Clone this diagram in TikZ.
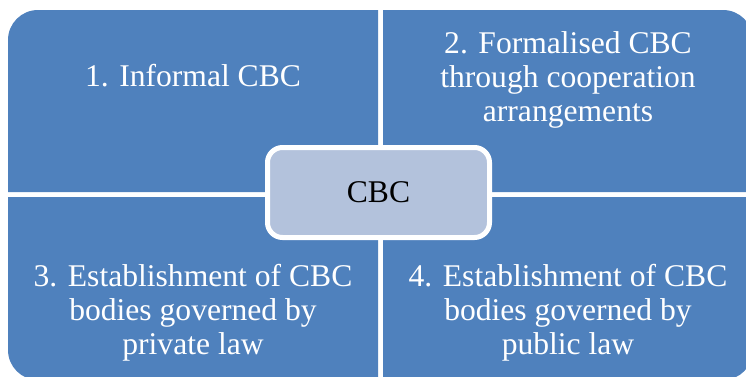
\documentclass[tikz,border=0pt]{standalone}
\usepackage{fontspec}
\setmainfont{Liberation Serif}
\definecolor{quadblue}{HTML}{4F81BD}
\definecolor{hubfill}{HTML}{B3C2DC}
\tikzset{
  quadtext/.style={text=white, align=center, inner sep=0pt,
    font=\fontsize{31.6}{34}\selectfont},
  hubbox/.style={fill=hubfill, draw=white, line width=5pt,
    rounded corners=15pt, minimum width=222pt, minimum height=90pt,
    inner sep=0pt, font=\fontsize{31.6}{34}\selectfont, text=black}
}
\begin{document}
\begin{tikzpicture}[x=1pt,y=-1pt]
  \useasboundingbox (0,0) rectangle (746,376);
  \clip (0,0) rectangle (746,376);
  % four quadrants, each rounded on its outer corner only (y grows downwards)
  \fill[quadblue] (8,192) -- (8,40) arc[start angle=180,end angle=270,radius=30]
    -- (378,10) -- (378,192) -- cycle;
  \fill[quadblue] (383,10) -- (723,10) arc[start angle=270,end angle=360,radius=30]
    -- (753,192) -- (383,192) -- cycle;
  \fill[quadblue] (8,197) -- (378,197) -- (378,380) -- (38,380)
    arc[start angle=90,end angle=180,radius=30] -- cycle;
  \fill[quadblue] (383,197) -- (753,197) -- (753,350)
    arc[start angle=0,end angle=90,radius=30] -- (383,380) -- cycle;
  % quadrant labels
  \node[quadtext] (q1) at (193,76) {1. Informal CBC};
  \node[quadtext] (q2) at (568,79.75) {2. Formalised CBC\\through cooperation\\arrangements};
  \node[quadtext] (q3) at (193,312.75) {3. Establishment of CBC\\bodies governed by\\private law};
  \node[quadtext] (q4) at (568,312.75) {4. Establishment of CBC\\bodies governed by\\public law};
  % central hub
  \node[hubbox] (hub) at (378.5,192.5) {CBC};
\end{tikzpicture}
\end{document}
